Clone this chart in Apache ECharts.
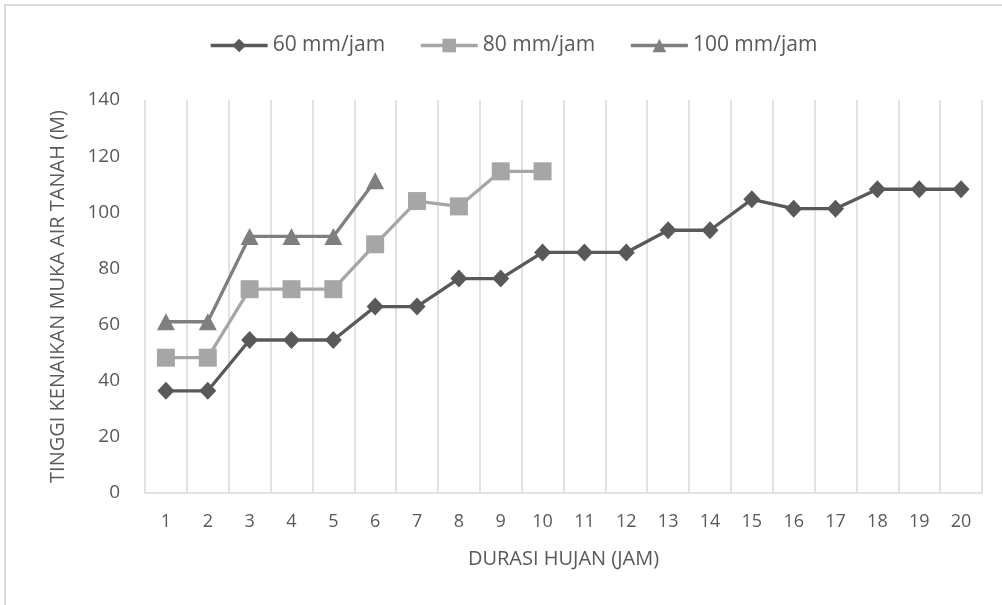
<!DOCTYPE html>
<html>
<head>
<meta charset="utf-8">
<script src="https://cdn.jsdelivr.net/npm/echarts@6/dist/echarts.min.js"></script>
<style>
html,body{margin:0;padding:0;background:#fff;}
#chart{width:1002px;height:605px;}
</style>
</head>
<body>
<div id="chart"></div>
<script>
const categories = ['1','2','3','4','5','6','7','8','9','10','11','12','13','14','15','16','17','18','19','20'];
const series60 = [36.4,36.4,54.5,54.5,54.5,66.4,66.4,76.4,76.4,85.7,85.7,85.7,93.6,93.6,104.6,101.3,101.3,108.2,108.2,108.2];
const series80 = [48.2,48.2,72.6,72.6,72.6,88.6,104.0,102.1,114.6,114.6];
const series100 = [61.0,61.0,91.4,91.4,91.4,111.2];
const seriesNames = ['60 mm/jam','80 mm/jam','100 mm/jam'];
const yTicks = {min:0,max:140,interval:20};

const FONT = '"Open Sans", sans-serif';
const TXT = '#595959';

const chart = echarts.init(document.getElementById('chart'), null, {renderer:'canvas'});
chart.setOption({
  animation:false,
  backgroundColor:'#fff',
  graphic:[{type:'rect',shape:{x:5,y:5,width:1100,height:700},style:{fill:'none',stroke:'#d9d9d9',lineWidth:2},silent:true}],
  legend:{
    top:30, left:204, itemGap:34, itemWidth:57, itemHeight:17,
    lineStyle:{width:3.3},
    textStyle:{fontFamily:FONT,fontSize:21,color:TXT},
    data:seriesNames
  },
  grid:{left:145,right:20,top:100,bottom:112,containLabel:false},
  xAxis:{
    type:'category', data:categories, boundaryGap:true,
    name:'DURASI HUJAN (JAM)', nameLocation:'middle', nameGap:56,
    nameTextStyle:{fontFamily:FONT,fontSize:20,color:TXT},
    axisLine:{show:true,lineStyle:{color:'#d9d9d9',width:1.5}},
    axisTick:{show:false},
    axisLabel:{fontFamily:FONT,fontSize:18,color:TXT,margin:20},
    splitLine:{show:true,lineStyle:{color:'#d9d9d9',width:1.5}}
  },
  yAxis:{
    type:'value', min:yTicks.min, max:yTicks.max, interval:yTicks.interval,
    name:'TINGGI KENAIKAN MUKA AIR TANAH (M)', nameLocation:'middle', nameGap:77, nameRotate:90,
    nameTextStyle:{fontFamily:FONT,fontSize:20,color:TXT},
    axisLine:{show:false}, axisTick:{show:false},
    axisLabel:{fontFamily:FONT,fontSize:19,color:TXT,margin:25},
    splitLine:{show:false}
  },
  series:[
    {name:seriesNames[0],type:'line',data:series60,symbol:'diamond',symbolSize:[17,18],
     lineStyle:{color:'#595959',width:3.3},itemStyle:{color:'#595959'},z:3},
    {name:seriesNames[1],type:'line',data:series80,symbol:'rect',symbolSize:[18,18],
     lineStyle:{color:'#a6a6a6',width:3.3},itemStyle:{color:'#a6a6a6'},z:2},
    {name:seriesNames[2],type:'line',data:series100,symbol:'triangle',symbolSize:[18,17],
     lineStyle:{color:'#7f7f7f',width:3.3},itemStyle:{color:'#7f7f7f'},z:2}
  ]
});
</script>
</body>
</html>
